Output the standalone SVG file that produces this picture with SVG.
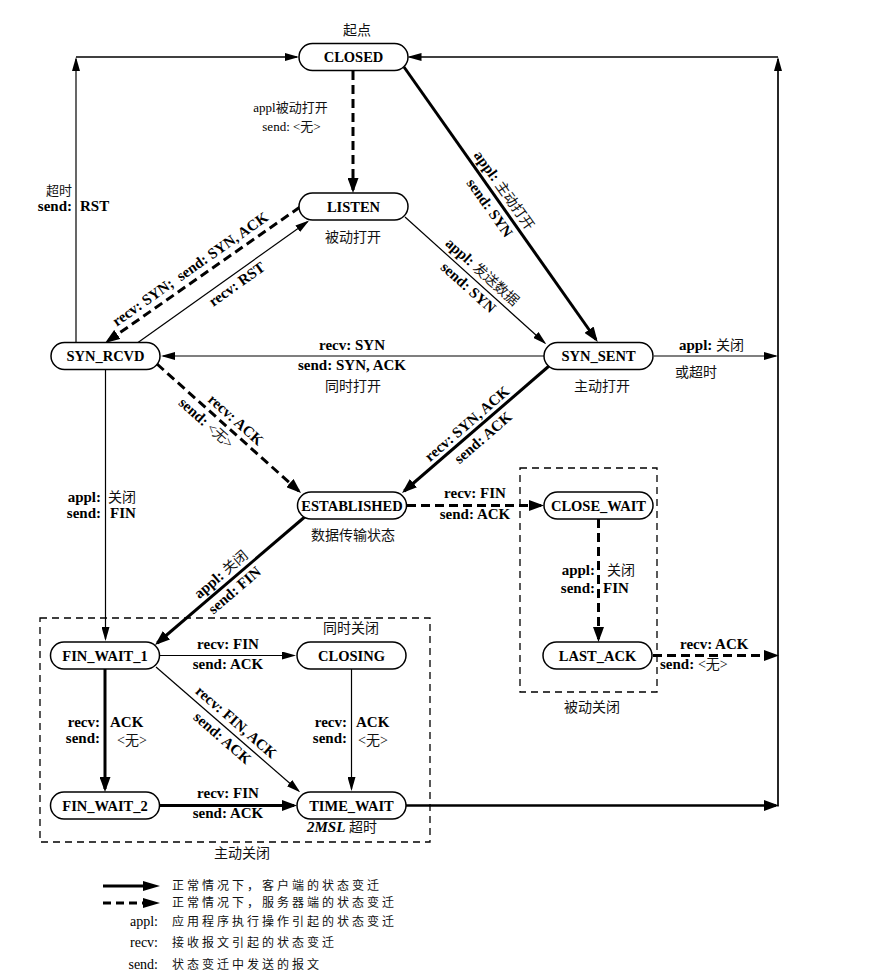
<svg xmlns="http://www.w3.org/2000/svg" width="881" height="974" viewBox="0 0 881 974">
<defs>
<style>
.n rect{fill:#fff;stroke:#000;stroke-width:1.5}
.n text{font-family:"Liberation Serif","Noto Sans CJK SC",serif;font-weight:bold;font-size:14.5px;text-anchor:middle;fill:#000}
.e{fill:none;stroke:#000}
.thin{stroke-width:1.2;marker-end:url(#a)}
.thick{stroke-width:3;marker-end:url(#A)}
.dash{stroke-width:3;stroke-dasharray:9 5;marker-end:url(#A)}
.box{fill:none;stroke:#000;stroke-width:1.3;stroke-dasharray:7 5}
.l{font-family:"Liberation Serif","Noto Sans CJK SC",serif;font-weight:bold;font-size:15px;fill:#000}
.c{font-family:"Noto Sans CJK SC",sans-serif;font-weight:normal;font-size:14px;fill:#111}
.r{font-weight:normal;font-size:14px}
.s{font-size:13px}
.m{text-anchor:middle}
.en{text-anchor:end}
.it{font-style:italic}
.lg{font-size:12px;letter-spacing:3px}
</style>
<marker id="a" viewBox="0 0 14 8" refX="12" refY="4" markerWidth="14" markerHeight="8" markerUnits="userSpaceOnUse" orient="auto"><path d="M0,0 L14,4 L0,8 Z" fill="#000"/></marker>
<marker id="A" viewBox="0 0 15 11" refX="12" refY="5.5" markerWidth="15" markerHeight="11" markerUnits="userSpaceOnUse" orient="auto"><path d="M0,0 L15,5.5 L0,11 Z" fill="#000"/></marker>
</defs>
<rect width="881" height="974" fill="#fff"/>

<g id="boxes">
<rect class="box" x="40" y="618" width="390" height="224"/>
<rect class="box" x="520" y="468" width="137" height="224"/>
</g>

<g id="connectors">
<path class="e dash" d="M353,71 V190"/>
<path class="e thick" d="M404,67 L596,339.5"/>
<path class="e dash" d="M300,207 L107.5,341.3"/>
<path class="e thin" d="M138,342.5 L307.5,221.7"/>
<path class="e thin" d="M405,217 L544.8,343"/>
<path class="e thin" d="M544,356 H163"/>
<path class="e dash" d="M157,364 L298.8,491"/>
<path class="e thick" d="M549,366 L404.3,491"/>
<path class="e thin" d="M654,356 H776"/>
<path class="e dash" d="M407,505.5 H541"/>
<path class="e dash" d="M598.5,519 V639"/>
<path class="e dash" d="M653,655.5 H776"/>
<path class="e thick" d="M307,515 L157.3,643"/>
<path class="e thin" d="M105.5,370 V639"/>
<path class="e thin" d="M159,655.5 H294"/>
<path class="e thin" d="M156,667 L298.7,791"/>
<path class="e thick" d="M105,669 V789"/>
<path class="e thin" d="M351.5,669 V789"/>
<path class="e thick" d="M159.5,805.5 H294"/>
<path class="e thick" style="stroke-width:2.6" d="M406,805.5 H776"/>
<path class="e thin" style="stroke-width:1.7" d="M778,806.5 V59"/>
<path class="e thin" style="stroke-width:1.5" d="M778,57 H409.5"/>
<path class="e thin" d="M76,342.5 V59"/>
<path class="e thin" style="stroke-width:1.5" d="M76,57 H297"/>
</g>

<g id="labels">
<text class="c m" x="357" y="35">起点</text>
<text class="c m" x="353" y="242">被动打开</text>
<text class="c m" x="602" y="391">主动打开</text>
<text class="c m" x="353" y="391">同时打开</text>
<text class="c m" x="353" y="540">数据传输状态</text>
<text class="c m" x="351" y="633">同时关闭</text>
<text class="c m" x="242" y="858">主动关闭</text>
<text class="c m" x="592" y="712">被动关闭</text>
<text class="l" x="307" y="832"><tspan class="it">2MSL</tspan> <tspan class="c">超时</tspan></text>

<text class="l r m s" x="290.5" y="112">appl<tspan class="c s">被动打开</tspan></text>
<text class="l r m s" x="291.5" y="131">send: &lt;<tspan class="c s">无</tspan>&gt;</text>

<g transform="translate(497,199) rotate(54.7)">
<text class="l m" x="-3" y="-6">appl: <tspan class="c">主动打开</tspan></text>
<text class="l m" x="3" y="16">send: SYN</text>
</g>
<g transform="translate(197,278.8) rotate(-35.1)">
<text class="l m" x="0" y="-7">recv: SYN;&#160; send: SYN, ACK</text>
</g>
<g transform="translate(231,276) rotate(-35.4)">
<text class="l m" x="0" y="15">recv: RST</text>
</g>
<g transform="translate(475,280) rotate(42)">
<text class="l m" x="0" y="-6">appl: <tspan class="c">发送数据</tspan></text>
<text class="l m" x="0" y="15">send: SYN</text>
</g>
<text class="l m" x="352" y="350">recv: SYN</text>
<text class="l m" x="352" y="370">send: SYN, ACK</text>
<g transform="translate(221,421.3) rotate(41.9)">
<text class="l m" x="10" y="-6">recv: ACK</text>
<text class="l m" x="-10" y="16">send: <tspan class="r">&lt;</tspan><tspan class="c">无</tspan><tspan class="r">&gt;</tspan></text>
</g>
<g transform="translate(475,430) rotate(-40.8)">
<text class="l m" x="-2" y="-5">recv: SYN, ACK</text>
<text class="l m" x="1" y="16">send: ACK</text>
</g>
<text class="l" x="679" y="350">appl: <tspan class="c">关闭</tspan></text>
<text class="c" x="675" y="377">或超时</text>
<text class="l m" x="475" y="498">recv: FIN</text>
<text class="l m" x="475" y="519">send: ACK</text>
<text class="l en" x="595" y="575">appl:</text>
<text class="c" x="607" y="575">关闭</text>
<text class="l en" x="595" y="593">send:</text>
<text class="l" x="603" y="593">FIN</text>
<text class="l" x="680" y="649">recv: ACK</text>
<text class="l" x="660" y="669">send: <tspan class="r">&lt;</tspan><tspan class="c">无</tspan><tspan class="r">&gt;</tspan></text>
<g transform="translate(228,582.6) rotate(-40.5)">
<text class="l m" x="0" y="-6">appl: <tspan class="c">关闭</tspan></text>
<text class="l m" x="0" y="15">send: FIN</text>
</g>
<text class="l en" x="101" y="502">appl:</text>
<text class="c" x="108" y="502">关闭</text>
<text class="l en" x="101" y="518">send:</text>
<text class="l" x="110" y="518">FIN</text>
<text class="l m" x="228" y="649">recv: FIN</text>
<text class="l m" x="228" y="669">send: ACK</text>
<g transform="translate(229,730.4) rotate(41)">
<text class="l m" x="0" y="-6">recv: FIN, ACK</text>
<text class="l m" x="0" y="15">send: ACK</text>
</g>
<text class="l en" x="100" y="727">recv:</text>
<text class="l" x="110" y="727">ACK</text>
<text class="l en" x="100" y="743">send:</text>
<text class="l r" x="117" y="745">&lt;<tspan class="c">无</tspan>&gt;</text>
<text class="l en" x="347" y="727">recv:</text>
<text class="l" x="356" y="727">ACK</text>
<text class="l en" x="347" y="743">send:</text>
<text class="l r" x="358" y="745">&lt;<tspan class="c">无</tspan>&gt;</text>
<text class="l m" x="228" y="798">recv: FIN</text>
<text class="l m" x="228" y="818">send: ACK</text>
<text class="c en s" x="72" y="195">超时</text>
<text class="l en" x="72" y="211">send:</text>
<text class="l" x="80" y="211">RST</text>
</g>

<g id="n-closed" class="n"><rect x="299" y="43.5" width="109" height="27" rx="13.5"/><text x="353.5" y="62">CLOSED</text></g>
<g id="n-listen" class="n"><rect x="299" y="193" width="109" height="27" rx="13.5"/><text x="353.5" y="211.5">LISTEN</text></g>
<g id="n-syn-rcvd" class="n"><rect x="51" y="342.5" width="109" height="27" rx="13.5"/><text x="105.5" y="361">SYN_RCVD</text></g>
<g id="n-syn-sent" class="n"><rect x="544" y="342.5" width="109" height="27" rx="13.5"/><text x="598.5" y="361">SYN_SENT</text></g>
<g id="n-established" class="n"><rect x="297.5" y="492" width="109" height="27" rx="13.5"/><text x="352" y="510.5">ESTABLISHED</text></g>
<g id="n-close-wait" class="n"><rect x="544" y="492" width="109" height="27" rx="13.5"/><text x="598.5" y="510.5">CLOSE_WAIT</text></g>
<g id="n-last-ack" class="n"><rect x="543" y="642" width="109" height="27" rx="13.5"/><text x="597.5" y="660.5">LAST_ACK</text></g>
<g id="n-fin-wait-1" class="n"><rect x="50.5" y="642" width="109" height="27" rx="13.5"/><text x="105" y="660.5">FIN_WAIT_1</text></g>
<g id="n-closing" class="n"><rect x="297" y="642" width="109" height="27" rx="13.5"/><text x="351.5" y="660.5">CLOSING</text></g>
<g id="n-fin-wait-2" class="n"><rect x="50.5" y="792" width="109" height="27" rx="13.5"/><text x="105" y="810.5">FIN_WAIT_2</text></g>
<g id="n-time-wait" class="n"><rect x="297" y="792" width="109" height="27" rx="13.5"/><text x="351.5" y="810.5">TIME_WAIT</text></g>

<g id="legend">
<path d="M103,886 H144" stroke="#000" stroke-width="3" fill="none"/>
<path d="M143,881 L160,886 L143,891 Z" fill="#000"/>
<path d="M103,903 H144" stroke="#000" stroke-width="3" stroke-dasharray="8 5" fill="none"/>
<path d="M143,898 L160,903 L143,908 Z" fill="#000"/>
<text class="c lg" x="172" y="890">正常情况下，客户端的状态变迁</text>
<text class="c lg" x="172" y="907">正常情况下，服务器端的状态变迁</text>
<text class="l r en" x="158" y="926">appl:</text>
<text class="c lg" x="172" y="926">应用程序执行操作引起的状态变迁</text>
<text class="l r en" x="158" y="947">recv:</text>
<text class="c lg" x="172" y="947">接收报文引起的状态变迁</text>
<text class="l r en" x="158" y="969">send:</text>
<text class="c lg" x="172" y="969">状态变迁中发送的报文</text>
</g>
</svg>
